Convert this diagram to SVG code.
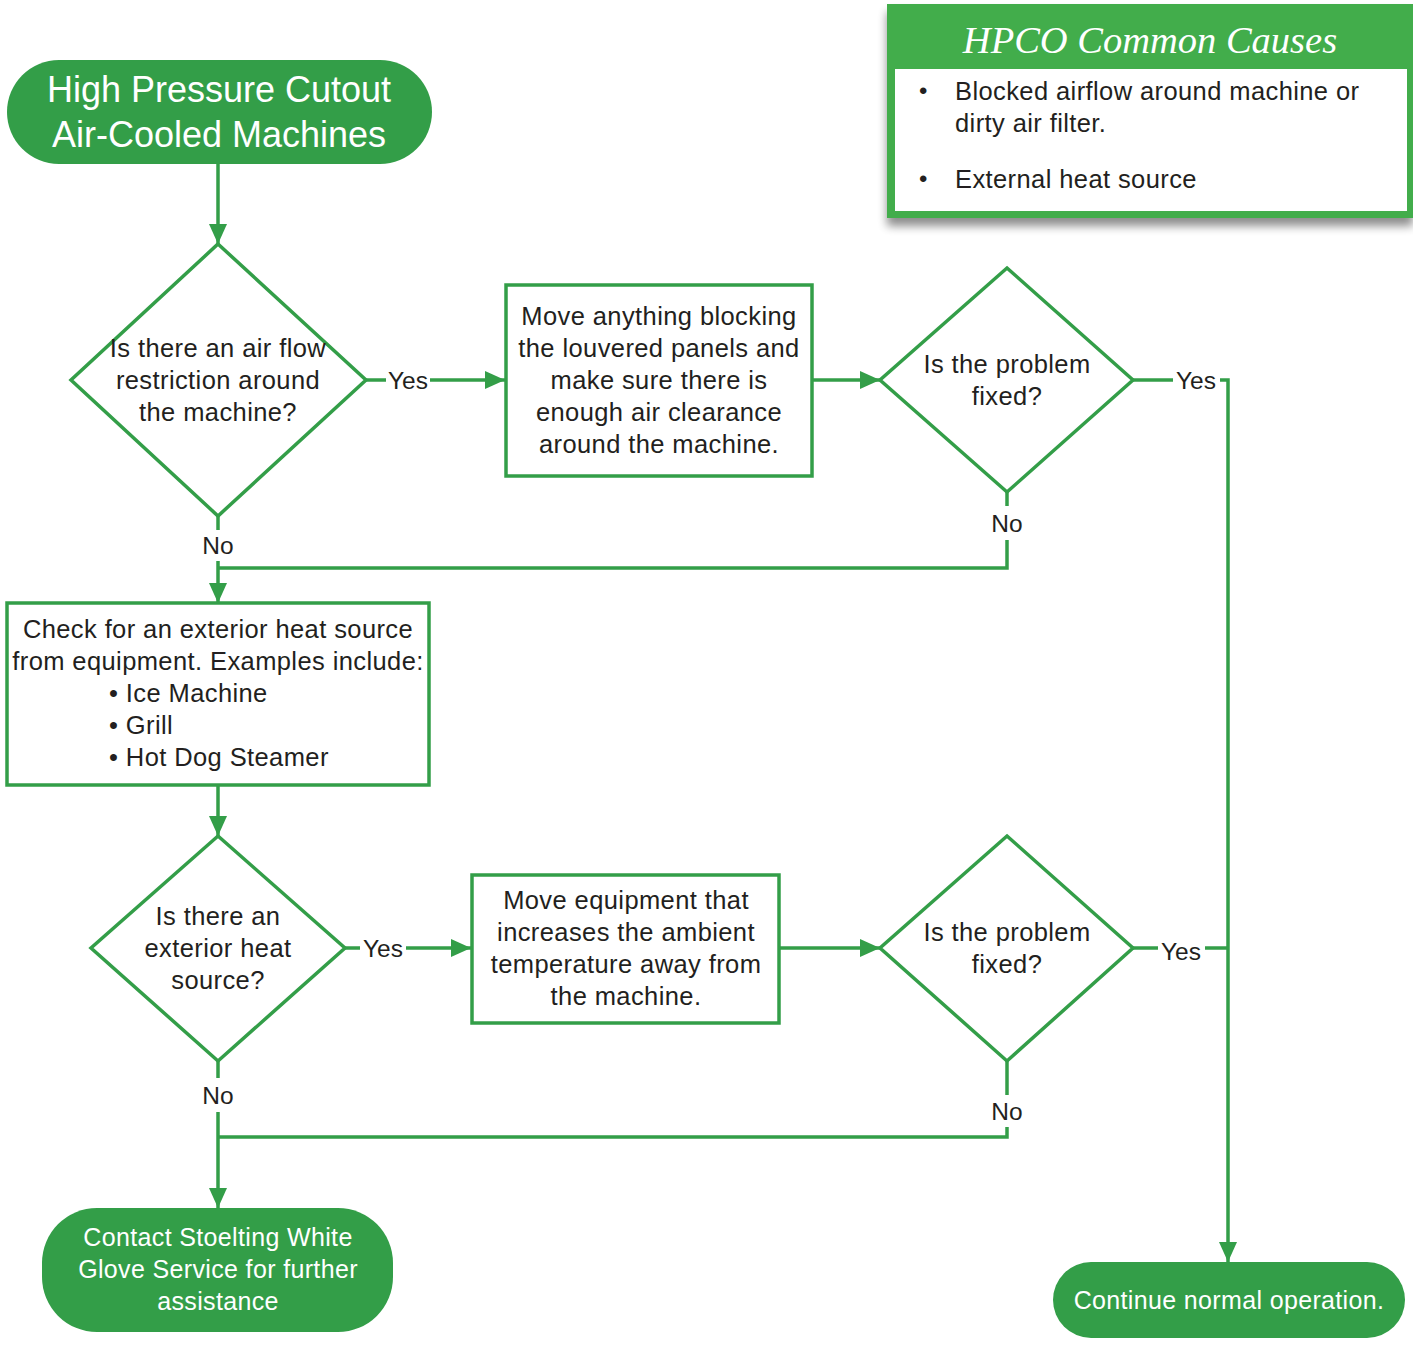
<svg xmlns="http://www.w3.org/2000/svg" width="1413" height="1347" viewBox="0 0 1413 1347">
<defs>
<marker id="ah" markerWidth="20" markerHeight="18" refX="20" refY="9" orient="auto" markerUnits="userSpaceOnUse">
<path d="M0,0 L20,9 L0,18 Z" fill="#339e48"/>
</marker>
<filter id="sh" x="-10%" y="-10%" width="120%" height="130%">
<feGaussianBlur in="SourceAlpha" stdDeviation="5"/>
<feOffset dx="0" dy="8"/>
<feComponentTransfer><feFuncA type="linear" slope="0.45"/></feComponentTransfer>
<feMerge><feMergeNode/><feMergeNode in="SourceGraphic"/></feMerge>
</filter>
</defs>
<style>
.ln{fill:none;stroke:#339e48;stroke-width:3.5}
.shape{fill:#fff;stroke:#339e48;stroke-width:3.5}
.term{fill:#339e48}
.t{font-family:"Liberation Sans",Arial,sans-serif;font-size:25.5px;letter-spacing:0.4px;fill:#231f20;text-anchor:middle}
.tl{font-family:"Liberation Sans",Arial,sans-serif;font-size:25.5px;letter-spacing:0.4px;fill:#231f20}
.w{font-family:"Liberation Sans",Arial,sans-serif;fill:#fff;text-anchor:middle}
.ws{font-size:25px;letter-spacing:0.35px}
.lab{font-family:"Liberation Sans",Arial,sans-serif;font-size:24.5px;fill:#231f20;text-anchor:middle}
</style>
<rect width="1413" height="1347" fill="#fff"/>

<g id="panel">
<rect x="887" y="4" width="526" height="214" fill="#43ad4c" filter="url(#sh)"/>
<rect x="895" y="69" width="512" height="142" fill="#fff"/>
<text x="1150" y="53" font-family="Liberation Serif,'Times New Roman',serif" font-style="italic" font-size="38.5" fill="#fff" text-anchor="middle">HPCO Common Causes</text>
<text class="tl" x="919" y="99" style="font-size:24px">•</text>
<text class="tl" x="955" y="100">Blocked airflow around machine or</text>
<text class="tl" x="955" y="132">dirty air filter.</text>
<text class="tl" x="919" y="187" style="font-size:24px">•</text>
<text class="tl" x="955" y="188">External heat source</text>
</g>

<g id="connectors">
<line class="ln" x1="218" y1="164" x2="218" y2="244" marker-end="url(#ah)"/>
<line class="ln" x1="366" y1="380" x2="386" y2="380"/>
<line class="ln" x1="430" y1="380" x2="505" y2="380" marker-end="url(#ah)"/>
<line class="ln" x1="812" y1="380" x2="880" y2="380" marker-end="url(#ah)"/>
<line class="ln" x1="1133" y1="380" x2="1173" y2="380"/>
<polyline class="ln" points="1220,380 1228,380 1228,1262" marker-end="url(#ah)"/>
<line class="ln" x1="1007" y1="492" x2="1007" y2="506"/>
<polyline class="ln" points="1007,540 1007,568 218,568"/>
<line class="ln" x1="218" y1="516" x2="218" y2="530"/>
<line class="ln" x1="218" y1="561" x2="218" y2="603" marker-end="url(#ah)"/>
<line class="ln" x1="218" y1="785" x2="218" y2="836" marker-end="url(#ah)"/>
<line class="ln" x1="345" y1="948" x2="360" y2="948"/>
<line class="ln" x1="406" y1="948" x2="471" y2="948" marker-end="url(#ah)"/>
<line class="ln" x1="779" y1="948" x2="880" y2="948" marker-end="url(#ah)"/>
<line class="ln" x1="1133" y1="948" x2="1158" y2="948"/>
<line class="ln" x1="1205" y1="948" x2="1228" y2="948"/>
<line class="ln" x1="1007" y1="1061" x2="1007" y2="1095"/>
<polyline class="ln" points="1007,1127 1007,1137 218,1137"/>
<line class="ln" x1="218" y1="1061" x2="218" y2="1078"/>
<line class="ln" x1="218" y1="1112" x2="218" y2="1208" marker-end="url(#ah)"/>
<text class="lab" x="408" y="389">Yes</text>
<text class="lab" x="1196" y="389">Yes</text>
<text class="lab" x="1007" y="532">No</text>
<text class="lab" x="218" y="554">No</text>
<text class="lab" x="383" y="957">Yes</text>
<text class="lab" x="1181" y="960">Yes</text>
<text class="lab" x="218" y="1104">No</text>
<text class="lab" x="1007" y="1120">No</text>
</g>

<g id="start">
<rect class="term" x="7" y="60" width="425" height="104" rx="52"/>
<text class="w" x="219" y="102" font-size="36">High Pressure Cutout</text>
<text class="w" x="219" y="147" font-size="36">Air-Cooled Machines</text>
</g>

<g id="d1">
<polygon class="shape" points="218,244 366,380 218,516 71,380"/>
<text class="t" x="218" y="357">Is there an air flow</text>
<text class="t" x="218" y="389">restriction around</text>
<text class="t" x="218" y="421">the machine?</text>
</g>

<g id="b1">
<rect class="shape" x="506" y="285" width="306" height="191"/>
<text class="t" x="659" y="325">Move anything blocking</text>
<text class="t" x="659" y="357">the louvered panels and</text>
<text class="t" x="659" y="389">make sure there is</text>
<text class="t" x="659" y="421">enough air clearance</text>
<text class="t" x="659" y="453">around the machine.</text>
</g>

<g id="d2">
<polygon class="shape" points="1007,268 1133,380 1007,492 880,380"/>
<text class="t" x="1007" y="373">Is the problem</text>
<text class="t" x="1007" y="405">fixed?</text>
</g>

<g id="b2">
<rect class="shape" x="7" y="603" width="422" height="182"/>
<text class="t" x="218" y="638">Check for an exterior heat source</text>
<text class="t" x="218" y="670">from equipment. Examples include:</text>
<text class="tl" x="109" y="702">• Ice Machine</text>
<text class="tl" x="109" y="734">• Grill</text>
<text class="tl" x="109" y="766">• Hot Dog Steamer</text>
</g>

<g id="d3">
<polygon class="shape" points="218,836 345,948 218,1061 91,948"/>
<text class="t" x="218" y="925">Is there an</text>
<text class="t" x="218" y="957">exterior heat</text>
<text class="t" x="218" y="989">source?</text>
</g>

<g id="b3">
<rect class="shape" x="472" y="875" width="307" height="148"/>
<text class="t" x="626" y="909">Move equipment that</text>
<text class="t" x="626" y="941">increases the ambient</text>
<text class="t" x="626" y="973">temperature away from</text>
<text class="t" x="626" y="1005">the machine.</text>
</g>

<g id="d4">
<polygon class="shape" points="1007,836 1133,948 1007,1061 880,948"/>
<text class="t" x="1007" y="941">Is the problem</text>
<text class="t" x="1007" y="973">fixed?</text>
</g>

<g id="contact">
<rect class="term" x="42" y="1208" width="351" height="124" rx="55"/>
<text class="w ws" x="218" y="1246">Contact Stoelting White</text>
<text class="w ws" x="218" y="1278">Glove Service for further</text>
<text class="w ws" x="218" y="1310">assistance</text>
</g>

<g id="continue">
<rect class="term" x="1053" y="1262" width="352" height="76" rx="38"/>
<text class="w ws" x="1229" y="1309">Continue normal operation.</text>
</g>
</svg>
